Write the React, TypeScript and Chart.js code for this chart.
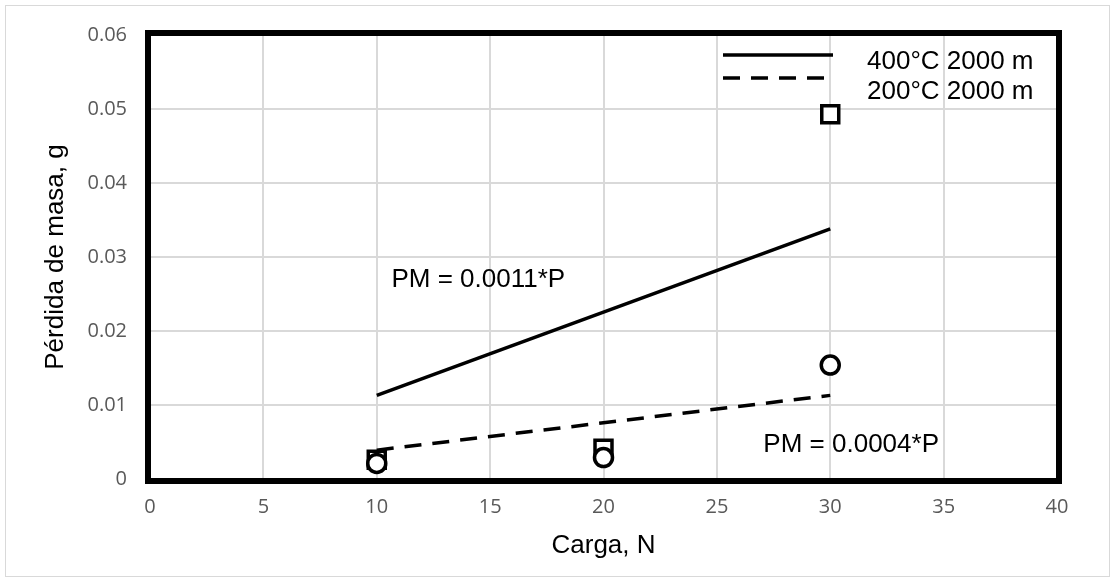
import React, { useEffect, useRef } from 'react';
import { Chart, registerables } from 'chart.js';

Chart.register(...registerables);

// ---- data ----
const loadValues = [10, 20, 30];
const loss400 = [0.0026, 0.0041, 0.0493];
const loss200 = [0.0021, 0.0029, 0.0154];
const fitX = [10, 30];
const fit400 = [0.0113, 0.0338];
const fit200 = [0.0039, 0.0113];
const seriesLabels = ['400°C 2000 m', '200°C 2000 m'];
const equationTexts = ['PM = 0.0011*P', 'PM = 0.0004*P'];
const xAxisTitle = 'Carga, N';
const yAxisTitle = 'Pérdida de masa, g';
const xMin = 0, xMax = 40, xStep = 5;
const yMin = 0, yMax = 0.06, yStep = 0.01;

// annotation anchors (data units)
const equationAnchors = [
  { x: 10.65, y: 0.0260 },
  { x: 27.05, y: 0.0037 },
];

const FONT = '"Liberation Sans", Arial, sans-serif';
const TICK_FONT = '"Open Sans", sans-serif';

const pts = (xs: number[], ys: number[]) => xs.map((x, i) => ({ x, y: ys[i] }));

const decorPlugin = {
  id: 'decor',
  beforeDraw(chart: any) {
    const { ctx, width, height } = chart;
    ctx.save();
    ctx.fillStyle = '#ffffff';
    ctx.fillRect(0, 0, width, height);
    ctx.strokeStyle = '#d9d9d9';
    ctx.lineWidth = 1;
    ctx.strokeRect(5.5, 5.5, width - 11, height - 11);
    ctx.restore();
  },
  afterDraw(chart: any) {
    const { ctx, chartArea: a, scales } = chart;
    ctx.save();
    // plot frame
    ctx.strokeStyle = '#000';
    ctx.lineWidth = 6;
    ctx.strokeRect(a.left - 2, a.top - 2, a.right - a.left + 4, a.bottom - a.top + 4);

    // legend
    ctx.lineWidth = 3.5;
    ctx.beginPath();
    ctx.setLineDash([]);
    ctx.moveTo(723, 55);
    ctx.lineTo(833, 55);
    ctx.stroke();
    ctx.beginPath();
    ctx.setLineDash([17, 11]);
    ctx.moveTo(723, 78);
    ctx.lineTo(833, 78);
    ctx.stroke();
    ctx.setLineDash([]);
    ctx.fillStyle = '#000';
    ctx.font = `26px ${FONT}`;
    ctx.textAlign = 'left';
    ctx.textBaseline = 'alphabetic';
    ctx.fillText(seriesLabels[0], 867, 69);
    ctx.fillText(seriesLabels[1], 867, 99);

    // equations
    equationTexts.forEach((t, i) => {
      const px = scales.x.getPixelForValue(equationAnchors[i].x);
      const py = scales.y.getPixelForValue(equationAnchors[i].y);
      ctx.fillText(t, px, py);
    });
    ctx.restore();
  },
};

export default function App() {
  const ref = useRef<HTMLCanvasElement | null>(null);

  useEffect(() => {
    document.body.style.margin = '0';
    if (!ref.current) return;
    const chart = new Chart(ref.current, {
      type: 'scatter',
      data: {
        datasets: [
          {
            label: seriesLabels[1] + ' datos',
            data: pts(loadValues, loss200),
            pointStyle: 'circle',
            pointRadius: 9,
            pointBorderWidth: 3.5,
            borderColor: '#000',
            backgroundColor: '#fff',
            showLine: false,
          },
          {
            label: seriesLabels[0] + ' datos',
            data: pts(loadValues, loss400),
            pointStyle: 'rect',
            pointRadius: 12,
            pointBorderWidth: 3.5,
            borderColor: '#000',
            backgroundColor: '#fff',
            showLine: false,
          },
          {
            label: seriesLabels[0],
            data: pts(fitX, fit400),
            showLine: true,
            pointRadius: 0,
            borderWidth: 3.5,
            borderColor: '#000',
          },
          {
            label: seriesLabels[1],
            data: pts(fitX, fit200),
            showLine: true,
            pointRadius: 0,
            borderWidth: 3.5,
            borderColor: '#000',
            borderDash: [17, 11],
          },
        ],
      },
      options: {
        animation: false,
        responsive: true,
        maintainAspectRatio: false,
        layout: { padding: { top: 35, right: 58, left: 0, bottom: 0 } },
        plugins: { legend: { display: false }, tooltip: { enabled: false } },
        scales: {
          x: {
            type: 'linear',
            min: xMin,
            max: xMax,
            afterFit: (s: any) => { s.height = 103; },
            ticks: {
              stepSize: xStep,
              padding: 16,
              color: '#595959',
              font: { family: TICK_FONT, size: 20 },
            },
            grid: { color: '#d9d9d9', lineWidth: 2, drawTicks: false },
            border: { display: false },
            title: {
              display: true,
              text: xAxisTitle,
              color: '#000',
              font: { family: FONT, size: 26 },
              padding: { top: 0, bottom: 21 },
            },
          },
          y: {
            type: 'linear',
            min: yMin,
            max: yMax,
            afterFit: (s: any) => { s.width = 150; },
            ticks: {
              stepSize: yStep,
              padding: 23,
              color: '#595959',
              font: { family: TICK_FONT, size: 20 },
              callback: (v: any) => (Number(v) === 0 ? '0' : Number(v).toFixed(2)),
            },
            grid: { color: '#d9d9d9', lineWidth: 2, drawTicks: false },
            border: { display: false },
            title: {
              display: true,
              text: yAxisTitle,
              color: '#000',
              font: { family: FONT, size: 26 },
              padding: { top: 40, bottom: 0 },
            },
          },
        },
      },
      plugins: [decorPlugin],
    });
    return () => chart.destroy();
  }, []);

  return (
    <div style={{ width: 1115, height: 582, position: 'relative' }}>
      <canvas ref={ref} />
    </div>
  );
}
